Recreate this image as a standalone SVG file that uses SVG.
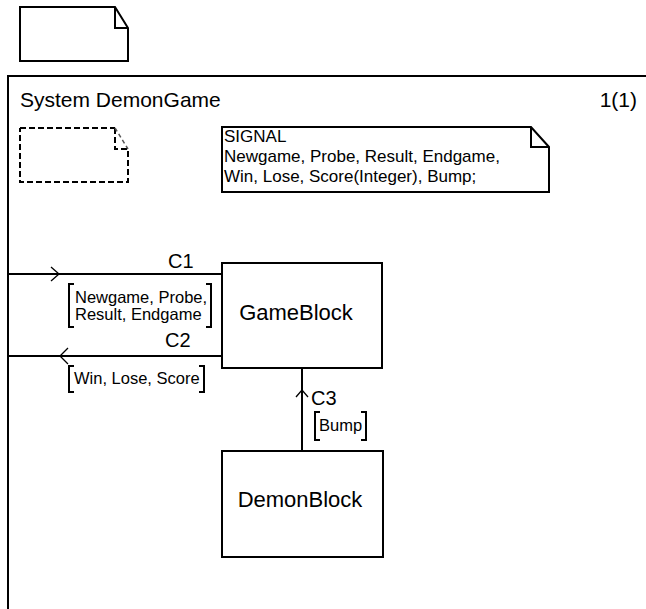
<svg xmlns="http://www.w3.org/2000/svg" width="646" height="609" viewBox="0 0 646 609">
<style>
.ln{fill:none;stroke:#000;stroke-width:2}
.thin{fill:none;stroke:#000;stroke-width:1.3}
.dash{fill:none;stroke:#000;stroke-width:2;stroke-dasharray:6,3}
.box{fill:#fff;stroke:#000;stroke-width:2}
text{font-family:"Liberation Sans",Arial,Helvetica,sans-serif;fill:#000}
.big{font-size:22px}
.ttl{font-size:21px}
.ch{font-size:20px}
.sm{font-size:17px}
.lbl{font-size:16.5px}
</style>
<rect width="646" height="609" fill="#fff"/>
<g id="top-note">
<path class="ln" d="M20,7 H115 L128,28 V61 H20 Z M115,7 V28 H128"/>
</g>
<g id="frame">
<path class="ln" d="M8,609 V76 H646"/>
<text class="ttl" x="20" y="107">System DemonGame</text>
<text class="ttl" x="637" y="107" text-anchor="end">1(1)</text>
</g>
<g id="dashed-note">
<path class="dash" d="M20,128 H115 M115,128 V149 H128 V182 H20 V128"/>
<path fill="none" stroke="#555" stroke-width="1.5" stroke-dasharray="4,3" d="M115,128 L128,149"/>
</g>
<g id="signal-text">
<path class="box" d="M222,127 H531 L549,147 V192 H222 Z"/>
<path class="ln" d="M531,127 V147 H549"/>
<text class="sm" x="224" y="142">SIGNAL</text>
<text class="sm" x="224" y="162">Newgame, Probe, Result, Endgame,</text>
<text class="sm" x="224" y="182">Win, Lose, Score(Integer), Bump;</text>
</g>
<g id="connectors">
<g id="C1">
<path class="ln" d="M8,274 H222"/>
<path class="thin" d="M51,267 L59,274 L51,281"/>
<text class="ch" x="168" y="268">C1</text>
<path class="ln" d="M74,284 H69 V327 H74 M206,284 H211 V327 H206"/>
<text class="lbl" x="75" y="303">Newgame, Probe,</text>
<text class="lbl" x="75" y="320">Result, Endgame</text>
</g>
<g id="C2">
<path class="ln" d="M8,356 H222"/>
<path class="thin" d="M68,348 L60,356 L68,364"/>
<text class="ch" x="165" y="347">C2</text>
<path class="ln" d="M74,366 H69 V392 H74 M199,366 H204 V392 H199"/>
<text class="lbl" x="74" y="384">Win, Lose, Score</text>
</g>
<g id="C3">
<path class="ln" d="M302,368 V451"/>
<path class="thin" d="M296,397 L302,390 L308,397"/>
<text class="ch" x="311" y="405">C3</text>
<path class="ln" d="M320,412 H315 V440 H320 M361,412 H366 V440 H361"/>
<text class="lbl" x="319" y="431">Bump</text>
</g>
</g>
<g id="GameBlock">
<rect class="box" x="222" y="263" width="160" height="105"/>
<text class="big" x="296" y="320" text-anchor="middle">GameBlock</text>
</g>
<g id="DemonBlock">
<rect class="box" x="222" y="451" width="161" height="106"/>
<text class="big" x="300" y="507" text-anchor="middle">DemonBlock</text>
</g>
</svg>
